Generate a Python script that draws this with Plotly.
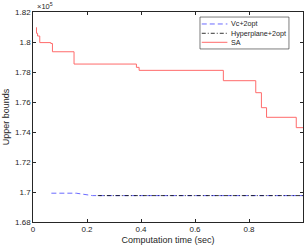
import plotly.graph_objects as go

# Data (values in units of 1e5)
sa_t = [0.013, 0.013, 0.017, 0.025, 0.066, 0.072, 0.152, 0.383, 0.393, 0.705, 0.825, 0.846, 0.865, 0.975, 1.0]
sa_v = [1.8098, 1.8058, 1.8040, 1.7996, 1.7990, 1.7935, 1.7853, 1.7831, 1.7811, 1.7742, 1.7662, 1.7562, 1.7498, 1.7429, 1.7429]

vc_t = [0.068, 0.16, 0.22, 1.0]
vc_v = [1.6992, 1.6992, 1.6976, 1.6976]

hp_t = [0.24, 1.0]
hp_v = [1.6976, 1.6976]

x_ticks = [0, 0.2, 0.4, 0.6, 0.8, 1]
x_labels = ["0", "0.2", "0.4", "0.6", "0.8", "1"]
y_ticks = [1.68, 1.70, 1.72, 1.74, 1.76, 1.78, 1.80, 1.82]
y_labels = ["1.68", "1.7", "1.72", "1.74", "1.76", "1.78", "1.8", "1.82"]

series_names = ["Vc+2opt", "Hyperplane+2opt", "SA"]
colors = ["#6b6bff", "#000000", "#ff6b6b"]
dashes = ["5px,3px", "4px,2px,1px,2px", "solid"]
widths = [1, 0.8, 1]

fig = go.Figure()
fig.add_trace(go.Scatter(x=vc_t, y=vc_v, mode="lines", name=series_names[0],
                         line=dict(color=colors[0], width=widths[0], dash=dashes[0])))
fig.add_trace(go.Scatter(x=hp_t, y=hp_v, mode="lines", name=series_names[1],
                         line=dict(color=colors[1], width=widths[1], dash=dashes[1])))
fig.add_trace(go.Scatter(x=sa_t, y=sa_v, mode="lines", name=series_names[2], line_shape="hv",
                         line=dict(color=colors[2], width=widths[2], dash=dashes[2])))

axis_common = dict(showline=True, linecolor="#262626", linewidth=0.6, mirror="ticks",
                   ticks="inside", ticklen=3, tickwidth=0.6, tickcolor="#262626",
                   showgrid=False, zeroline=False,
                   tickfont=dict(family="Liberation Sans, Arial", size=8, color="#262626"))

# Compact legend box (paper coordinates), drawn as shapes + text
lg_x0, lg_x1, lg_y0, lg_y1 = 0.6185, 0.948, 0.824, 0.976
item_y = [0.943, 0.8986, 0.8557]
shapes = [dict(type="rect", xref="paper", yref="paper", x0=lg_x0, x1=lg_x1, y0=lg_y0, y1=lg_y1,
               line=dict(color="#262626", width=0.6), fillcolor="white", layer="above")]
annotations = []
for name, c, d, w, yy in zip(series_names, colors, dashes, widths, item_y):
    shapes.append(dict(type="line", xref="paper", yref="paper", x0=0.625, x1=0.72, y0=yy, y1=yy,
                       line=dict(color=c, width=w, dash=d), layer="above"))
    annotations.append(dict(text=name, xref="paper", yref="paper", x=0.7248, y=yy,
                            xanchor="left", yanchor="middle", showarrow=False,
                            font=dict(size=7.2, color="#262626")))
annotations.append(dict(text="×10<sup>5</sup>", xref="paper", yref="paper",
                        x=0, y=1, xanchor="left", yanchor="bottom", showarrow=False,
                        font=dict(size=7.5), xshift=2, yshift=-1))

fig.update_layout(
    width=305, height=248,
    margin=dict(l=33, r=2, t=12, b=26),
    paper_bgcolor="white", plot_bgcolor="white",
    font=dict(family="Liberation Sans, Arial", size=8, color="#262626"),
    xaxis=dict(range=[0, 1], tickvals=x_ticks, ticktext=x_labels,
               title=dict(text="Computation time (sec)", standoff=3,
                          font=dict(size=9)), **axis_common),
    yaxis=dict(range=[1.68, 1.82], tickvals=y_ticks, ticktext=y_labels,
               title=dict(text="Upper bounds", standoff=3, font=dict(size=9)), **axis_common),
    showlegend=False,
    shapes=shapes,
    annotations=annotations,
)

fig.write_html("out.html", config={"displayModeBar": False},
               post_script="document.body.style.margin='0';document.body.style.overflow='hidden';")
